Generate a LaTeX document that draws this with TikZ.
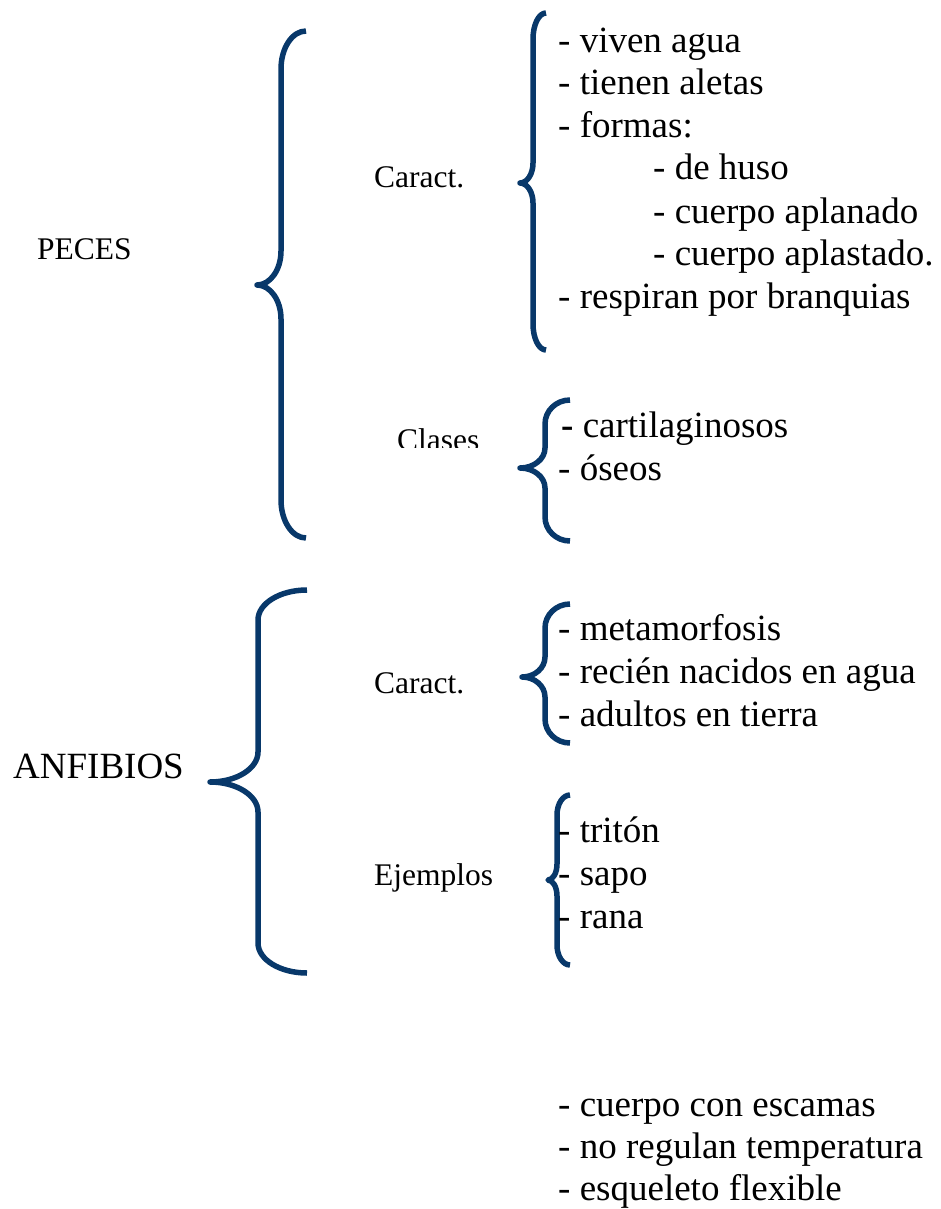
\documentclass[tikz,border=0pt]{standalone}
\usepackage{fontspec}
\setmainfont{Liberation Serif}
\definecolor{bracecol}{RGB}{8,56,106}
\newcommand{\bigtxt}{\fontsize{37}{43}\selectfont}
\newcommand{\smalltxt}{\fontsize{31.5}{36}\selectfont}
% brace: xend ytop xv xtip ymid ybot rend rmid
\newcommand{\curlybr}[8]{%
  \draw[bracebr] (#1,#2) .. controls ({#1-0.552*(#1-#3)},#2) and (#3,{#2+0.448*#7}) .. (#3,{#2+#7})
    -- (#3,{#5-#8}) .. controls (#3,{#5-0.448*#8}) and ({#4+0.552*(#3-#4)},#5) .. (#4,#5)
    .. controls ({#4+0.552*(#3-#4)},#5) and (#3,{#5+0.448*#8}) .. (#3,{#5+#8})
    -- (#3,{#6-#7}) .. controls (#3,{#6-0.448*#7}) and ({#1-0.552*(#1-#3)},#6) .. (#1,#6);}
\begin{document}
\begin{tikzpicture}[x=1pt,y=-1pt,
  bracebr/.style={draw=bracecol,line width=5.5pt,line cap=butt,line join=round},
  itm/.style={anchor=base west,inner sep=0pt,font=\bigtxt},
  lbl/.style={anchor=base west,inner sep=0pt,font=\smalltxt}]
\useasboundingbox (0,0) rectangle (940,1209);
% braces
\curlybr{306}{31}{281}{257}{285}{538}{38}{34}
\curlybr{546}{13}{533}{520}{183}{350}{26}{20}
\curlybr{570}{400}{545}{520}{468}{541}{24}{20}
\curlybr{307}{590}{258}{210}{782}{973}{30}{30}
\curlybr{570}{604}{545}{522}{677}{743}{24}{20}
\curlybr{570}{795}{557}{548}{880}{965}{20}{16}
% left labels
\node[lbl] (peces) at (37,259) {PECES};
\node[itm] (anf) at (13,778) {ANFIBIOS};
\node[lbl] (car1) at (374,188) {Caract.};
\begin{scope}
\clip (380,400) rectangle (500,447);
\node[lbl] (clases) at (397,450) {Clases};
\end{scope}
\node[lbl] (car2) at (374,693) {Caract.};
\node[lbl] (ejem) at (374,885) {Ejemplos};
% peces caract list
\node[itm] (p1) at (558,53) {- viven agua};
\node[itm] (p2) at (558,95) {- tienen aletas};
\node[itm] (p3) at (558,138) {- formas:};
\node[itm] (p4) at (653,180) {- de huso};
\node[itm] (p5) at (653,223) {- cuerpo aplanado};
\node[itm] (p6) at (653,265) {- cuerpo aplastado.};
\node[itm] (p7) at (558,308) {- respiran por branquias};
% clases
\node[itm] (c1) at (561,437) {\textbf{-} cartilaginosos};
\node[itm] (c2) at (558,480) {- óseos};
% anfibios caract
\node[itm] (a1) at (558,640) {- metamorfosis};
\node[itm] (a2) at (558,683) {- recién nacidos en agua};
\node[itm] (a3) at (558,726) {- adultos en tierra};
% ejemplos
\node[itm] (e1) at (558,842) {- tritón};
\node[itm] (e2) at (558,885) {- sapo};
\node[itm] (e3) at (558,928) {- rana};
% bottom list
\node[itm] (b1) at (558,1116) {- cuerpo con escamas};
\node[itm] (b2) at (558,1158) {- no regulan temperatura};
\node[itm] (b3) at (558,1200) {- esqueleto flexible};
\end{tikzpicture}
\end{document}
